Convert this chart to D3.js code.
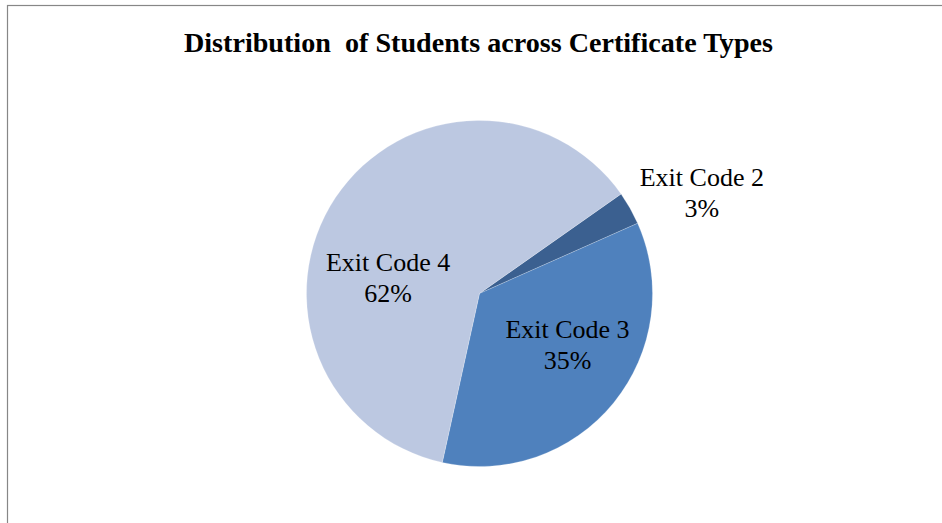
<!DOCTYPE html>
<html>
<head>
<meta charset="utf-8">
<script src="https://cdn.jsdelivr.net/npm/d3@7"></script>
<style>
  body { margin: 0; background: #fff; }
  svg { display: block; }
</style>
</head>
<body>
<div id="pie-plot"></div>
<script>
// chart data
const categories = ["Exit Code 2", "Exit Code 3", "Exit Code 4"];
const shares = [3.1, 35.1, 61.8];
const slice_colors = ["#3b6090", "#4f81bd", "#bcc8e1"];

const width = 942, height = 523;
const center = {x: 479.5, y: 293.5};
const radius = 173;

// label placement: nudge from the slice's mid-angle point (px)
const label_radius = [244, 102, 93];
const label_nudge = [[10, 13], [9, -20], [-14, 29]];

let svg = d3.select("#pie-plot")
    .append("svg")
    .attr("width", width)
    .attr("height", height);

// chart area border (right/bottom run off the page)
svg.append("rect")
    .attr("x", 7.5)
    .attr("y", 5.5)
    .attr("width", 1000)
    .attr("height", 600)
    .attr("fill", "none")
    .attr("stroke", "#878787")
    .attr("stroke-width", 1.2);

// title
let title = svg.append("text")
    .attr("x", 478.5)
    .attr("y", 51.5)
    .style("text-anchor", "middle")
    .style("font-family", "'Liberation Serif', 'Times New Roman', serif")
    .style("font-weight", "bold")
    .style("font-size", "28px")
    .style("white-space", "pre")
    .attr("xml:space", "preserve")
    .text("Distribution  of Students across Certificate Types");
title.attr("textLength", 589).attr("lengthAdjust", "spacingAndGlyphs");

let start = 54.9 * Math.PI / 180;
let pie = d3.pie()
    .sort(null)
    .startAngle(start)
    .endAngle(start + 2 * Math.PI);

let arc = d3.arc()
    .innerRadius(0)
    .outerRadius(radius);

let pie_data = pie(shares);
let total = d3.sum(shares);

let g = svg.append("g")
    .attr("transform", `translate(${center.x}, ${center.y})`);

g.selectAll("path")
    .data(pie_data)
    .enter()
    .append("path")
    .attr("d", arc)
    .attr("fill", (d, i) => slice_colors[i])
    .attr("stroke", "#ffffff")
    .attr("stroke-opacity", 0.35)
    .attr("stroke-width", 0.6);

// data labels: category + percent
let labels = g.selectAll(".label")
    .data(pie_data)
    .enter()
    .append("text")
    .attr("class", "label")
    .attr("transform", function(d, i) {
        let la = d3.arc().innerRadius(label_radius[i]).outerRadius(label_radius[i]);
        let c = la.centroid(d);
        return `translate(${c[0] + label_nudge[i][0]}, ${c[1] + label_nudge[i][1]})`;
    })
    .style("text-anchor", "middle")
    .style("font-family", "'Liberation Serif', 'Times New Roman', serif")
    .style("font-size", "26px")
    .attr("fill", "#000");

labels.append("tspan")
    .attr("x", 0)
    .attr("y", 0)
    .text((d, i) => categories[i]);

labels.append("tspan")
    .attr("x", 0)
    .attr("y", 31)
    .text(d => Math.round(d.data / total * 100) + "%");
</script>
</body>
</html>
